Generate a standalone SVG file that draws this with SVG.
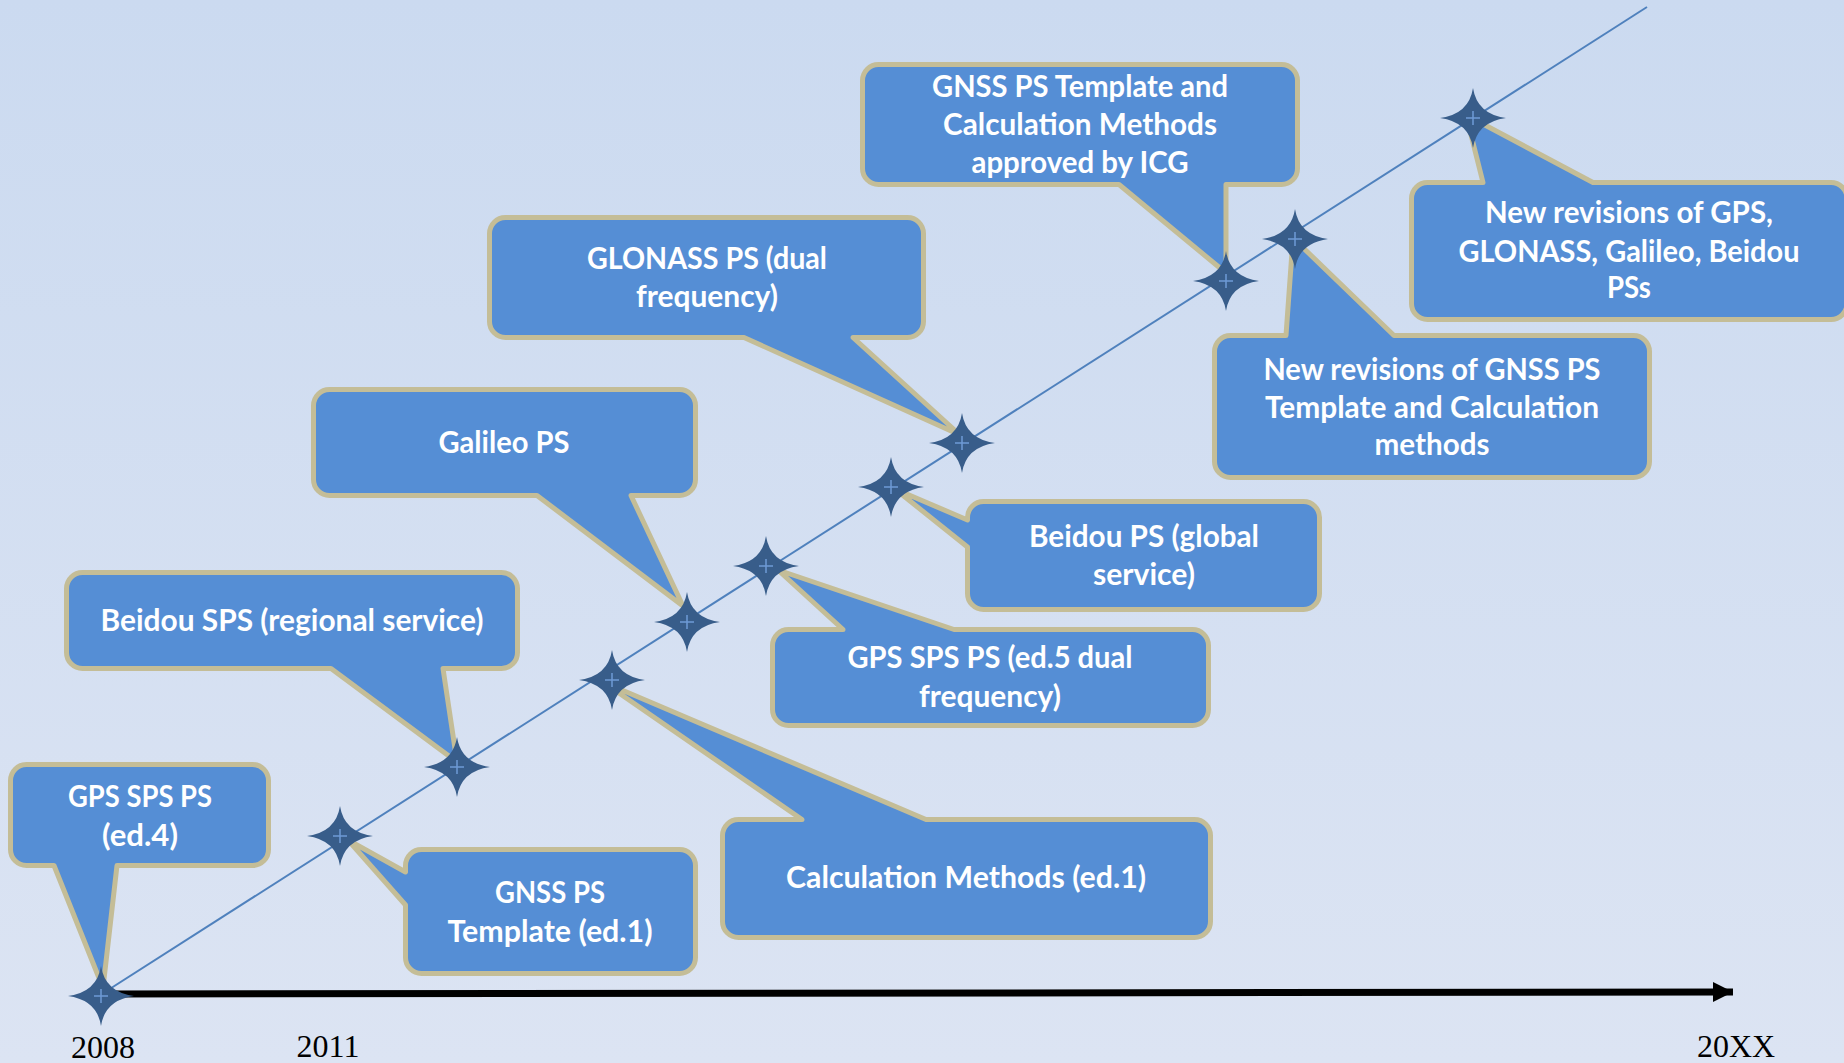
<svg xmlns="http://www.w3.org/2000/svg" width="1844" height="1063" viewBox="0 0 1844 1063">
<defs>
<linearGradient id="bg" x1="0" y1="0" x2="0" y2="1">
<stop offset="0" stop-color="#cbdaf0"/>
<stop offset="1" stop-color="#dce4f3"/>
</linearGradient>
<g id="star">
<path d="M0,-30 Q4,-4 33,0 Q4,4 0,30 Q-4,4 -33,0 Q-4,-4 0,-30Z" fill="#385d8a"/>
<path d="M-7,0H7M0,-7V7" stroke="#6e9bd6" stroke-width="1.5"/>
</g>
<marker id="arrow" markerUnits="userSpaceOnUse" markerWidth="22" markerHeight="22" refX="20" refY="10" orient="auto" viewBox="0 0 22 20">
<path d="M0,0 L20,10 L0,20 Z" fill="#000"/>
</marker>
</defs>
<style>
.box{fill:#558ed5;stroke:#c4bd97;stroke-width:5;stroke-linejoin:round}
.lbl{font-family:Lato,"Open Sans","Liberation Sans",sans-serif;font-weight:bold;font-size:31px;fill:#fff;text-anchor:middle}
.yr{font-family:"Liberation Serif","Times New Roman",serif;font-size:32px;fill:#000;text-anchor:middle}
</style>
<rect width="1844" height="1063" fill="url(#bg)"/>
<g id="connectors">
<line x1="105" y1="992" x2="1647" y2="7" stroke="#4f81bd" stroke-width="2"/>
<line x1="105" y1="994" x2="1733" y2="992" stroke="#000" stroke-width="7" marker-end="url(#arrow)"/>
</g>
<g id="node-gps-ed4">
<path class="box" d="M26.5,764.5 H252.5 A16,16 0 0 1 268.5,780.5 V849.5 A16,16 0 0 1 252.5,865.5 H117 L103,988 L54,865.5 H26.5 A16,16 0 0 1 10.5,849.5 V780.5 A16,16 0 0 1 26.5,764.5 Z"/>
<text class="lbl" x="140" y="807" textLength="144" lengthAdjust="spacingAndGlyphs">GPS SPS PS</text>
<text class="lbl" x="140" y="846" textLength="76" lengthAdjust="spacingAndGlyphs">(ed.4)</text>
</g>
<g id="node-gnss-template">
<path class="box" d="M421.5,849.5 H679.5 A16,16 0 0 1 695.5,865.5 V957.5 A16,16 0 0 1 679.5,973.5 H421.5 A16,16 0 0 1 405.5,957.5 V905 L348,840 L405.5,872 V865.5 A16,16 0 0 1 421.5,849.5 Z"/>
<text class="lbl" x="550" y="903" textLength="110" lengthAdjust="spacingAndGlyphs">GNSS PS</text>
<text class="lbl" x="550" y="942" textLength="205" lengthAdjust="spacingAndGlyphs">Template (ed.1)</text>
</g>
<g id="node-galileo">
<path class="box" d="M329.5,389.5 H679.5 A16,16 0 0 1 695.5,405.5 V479.5 A16,16 0 0 1 679.5,495.5 H631 L683,606 L537,495.5 H329.5 A16,16 0 0 1 313.5,479.5 V405.5 A16,16 0 0 1 329.5,389.5 Z"/>
<text class="lbl" x="504" y="453" textLength="131" lengthAdjust="spacingAndGlyphs">Galileo PS</text>
</g>
<g id="node-beidou-regional">
<path class="box" d="M82.5,572.5 H501.5 A16,16 0 0 1 517.5,588.5 V652.5 A16,16 0 0 1 501.5,668.5 H443 L457,762 L331,668.5 H82.5 A16,16 0 0 1 66.5,652.5 V588.5 A16,16 0 0 1 82.5,572.5 Z"/>
<text class="lbl" x="292" y="631" textLength="383" lengthAdjust="spacingAndGlyphs">Beidou SPS (regional service)</text>
</g>
<g id="node-glonass">
<path class="box" d="M505.5,217.5 H907.5 A16,16 0 0 1 923.5,233.5 V321.5 A16,16 0 0 1 907.5,337.5 H853 L960,435 L744,337.5 H505.5 A16,16 0 0 1 489.5,321.5 V233.5 A16,16 0 0 1 505.5,217.5 Z"/>
<text class="lbl" x="707" y="269" textLength="240" lengthAdjust="spacingAndGlyphs">GLONASS PS (dual</text>
<text class="lbl" x="707" y="307" textLength="142" lengthAdjust="spacingAndGlyphs">frequency)</text>
</g>
<g id="node-beidou-global">
<path class="box" d="M983.5,501.5 H1303.5 A16,16 0 0 1 1319.5,517.5 V593.5 A16,16 0 0 1 1303.5,609.5 H983.5 A16,16 0 0 1 967.5,593.5 V547 L895,489 L967.5,520 V517.5 A16,16 0 0 1 983.5,501.5 Z"/>
<text class="lbl" x="1144" y="547" textLength="230" lengthAdjust="spacingAndGlyphs">Beidou PS (global</text>
<text class="lbl" x="1144" y="585" textLength="102" lengthAdjust="spacingAndGlyphs">service)</text>
</g>
<g id="node-gps-ed5">
<path class="box" d="M788.5,629.5 H843 L778,570 L954,629.5 H1192.5 A16,16 0 0 1 1208.5,645.5 V709.5 A16,16 0 0 1 1192.5,725.5 H788.5 A16,16 0 0 1 772.5,709.5 V645.5 A16,16 0 0 1 788.5,629.5 Z"/>
<text class="lbl" x="990" y="668" textLength="285" lengthAdjust="spacingAndGlyphs">GPS SPS PS (ed.5 dual</text>
<text class="lbl" x="990" y="707" textLength="142" lengthAdjust="spacingAndGlyphs">frequency)</text>
</g>
<g id="node-calc-methods">
<path class="box" d="M738.5,819.5 H802 L603,682 L926,819.5 H1194.5 A16,16 0 0 1 1210.5,835.5 V921.5 A16,16 0 0 1 1194.5,937.5 H738.5 A16,16 0 0 1 722.5,921.5 V835.5 A16,16 0 0 1 738.5,819.5 Z"/>
<text class="lbl" x="966" y="888" textLength="360" lengthAdjust="spacingAndGlyphs">Calculation Methods (ed.1)</text>
</g>
<g id="node-icg">
<path class="box" d="M878.5,64.5 H1281.5 A16,16 0 0 1 1297.5,80.5 V168.5 A16,16 0 0 1 1281.5,184.5 H1226 L1226,273 L1119,184.5 H878.5 A16,16 0 0 1 862.5,168.5 V80.5 A16,16 0 0 1 878.5,64.5 Z"/>
<text class="lbl" x="1080" y="97" textLength="296" lengthAdjust="spacingAndGlyphs">GNSS PS Template and</text>
<text class="lbl" x="1080" y="135" textLength="274" lengthAdjust="spacingAndGlyphs">Calculation Methods</text>
<text class="lbl" x="1080" y="173" textLength="217" lengthAdjust="spacingAndGlyphs">approved by ICG</text>
</g>
<g id="node-new-rev-gnss">
<path class="box" d="M1230.5,335.5 H1286 L1293,238 L1394,335.5 H1633.5 A16,16 0 0 1 1649.5,351.5 V461.5 A16,16 0 0 1 1633.5,477.5 H1230.5 A16,16 0 0 1 1214.5,461.5 V351.5 A16,16 0 0 1 1230.5,335.5 Z"/>
<text class="lbl" x="1432" y="380" textLength="337" lengthAdjust="spacingAndGlyphs">New revisions of GNSS PS</text>
<text class="lbl" x="1432" y="418" textLength="334" lengthAdjust="spacingAndGlyphs">Template and Calculation</text>
<text class="lbl" x="1432" y="455" textLength="115" lengthAdjust="spacingAndGlyphs">methods</text>
</g>
<g id="node-new-rev-gps">
<path class="box" d="M1427.5,182.5 H1483 L1466,115 L1593,182.5 H1831 A16,16 0 0 1 1847,198.5 V303.5 A16,16 0 0 1 1831,319.5 H1427.5 A16,16 0 0 1 1411.5,303.5 V198.5 A16,16 0 0 1 1427.5,182.5 Z"/>
<text class="lbl" x="1629" y="223" textLength="288" lengthAdjust="spacingAndGlyphs">New revisions of GPS,</text>
<text class="lbl" x="1629" y="262" textLength="341" lengthAdjust="spacingAndGlyphs">GLONASS, Galileo, Beidou</text>
<text class="lbl" x="1629" y="298" textLength="44" lengthAdjust="spacingAndGlyphs">PSs</text>
</g>
<g id="stars">
<use href="#star" x="101" y="996"/>
<use href="#star" x="340" y="836"/>
<use href="#star" x="457" y="767"/>
<use href="#star" x="612" y="680"/>
<use href="#star" x="687" y="622"/>
<use href="#star" x="766" y="566"/>
<use href="#star" x="891" y="487"/>
<use href="#star" x="962" y="443"/>
<use href="#star" x="1226" y="281"/>
<use href="#star" x="1295" y="239"/>
<use href="#star" x="1473" y="118"/>
</g>
<g id="years">
<text class="yr" x="103" y="1058">2008</text>
<text class="yr" x="328" y="1057">2011</text>
<text class="yr" x="1736" y="1057">20XX</text>
</g>
</svg>
